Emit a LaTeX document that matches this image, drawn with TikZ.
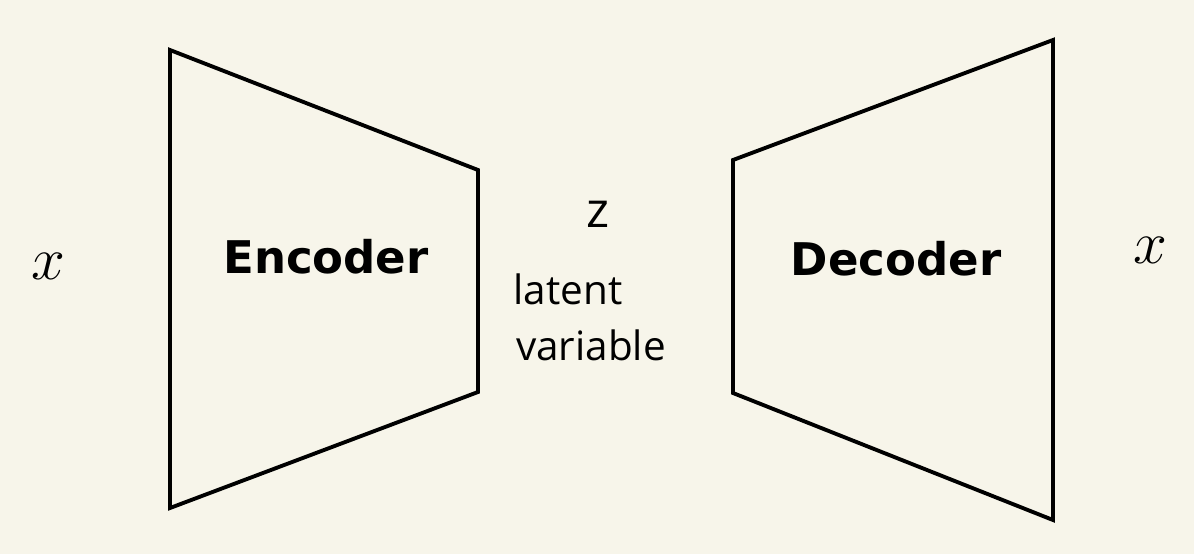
\documentclass[tikz,border=0pt]{standalone}
\usepackage{fontspec}
\newfontfamily\blockfont{DejaVu Sans}
\newfontfamily\handfont{Open Sans}
\definecolor{paper}{HTML}{F7F5EA}
\tikzset{
  block/.style={line width=1.1pt, line join=miter},
  blocklabel/.style={font=\blockfont\bfseries\fontsize{12.8pt}{14pt}\selectfont},
  hand/.style={font=\handfont\fontsize{11.5pt}{13pt}\selectfont, inner sep=0pt}
}
\begin{document}
\begin{tikzpicture}[x=0.01cm,y=-0.01cm]
\fill[paper] (0,0) rectangle (1194,554);
\useasboundingbox (0,0) rectangle (1194,554);

% encoder
\coordinate (e1) at (170,50);
\coordinate (e2) at (478,170);
\coordinate (e3) at (478,392);
\coordinate (e4) at (170,508);
\draw[block] (e1) -- (e2) -- (e3) -- (e4) -- cycle;
\node[blocklabel] (enc) at (326,257) {Encoder};

% decoder
\coordinate (d1) at (733,160);
\coordinate (d2) at (1053,40);
\coordinate (d3) at (1053,520);
\coordinate (d4) at (733,393);
\draw[block] (d1) -- (d2) -- (d3) -- (d4) -- cycle;
\node[blocklabel] (dec) at (896,259) {Decoder};

% inputs, outputs and the code in between
\node[font=\fontsize{17pt}{18pt}\selectfont] (xin) at (48,266) {$x$};
\node[font=\fontsize{17pt}{18pt}\selectfont] (xout) at (1150,250) {$x$};
\node[hand,font=\handfont\fontsize{14pt}{15pt}\selectfont] (z) at (598,214) {z};
\node[hand] (lat) at (568,289) {latent};
\node[hand] (var) at (591,345) {variable};
\end{tikzpicture}
\end{document}
